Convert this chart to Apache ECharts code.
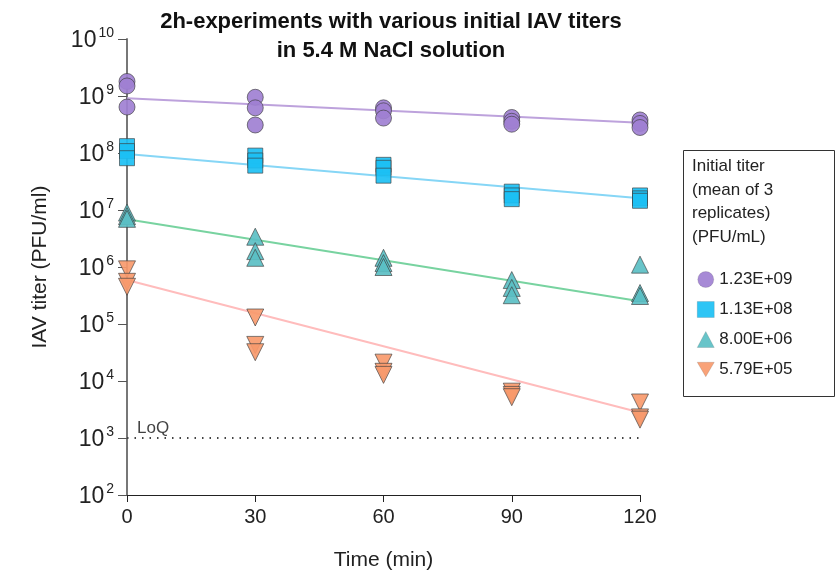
<!DOCTYPE html>
<html>
<head>
<meta charset="utf-8">
<script src="https://cdn.jsdelivr.net/npm/echarts@6/dist/echarts.min.js"></script>
<style>
  html, body { margin: 0; padding: 0; background: #fff; }
  #chart { width: 840px; height: 573px; }
</style>
</head>
<body>
<div id="chart"></div>
<script>
// sampling times (min)
var times = [0, 30, 60, 90, 120]

// 3 replicates per time point, PFU/ml
var purpleVals = [[1.8e9, 1.5e9, 6.4e8], [9.5e8, 6.2e8, 3.1e8], [6.2e8, 5.5e8, 4.1e8], [4.2e8, 3.6e8, 3.2e8], [3.8e8, 3.3e8, 2.8e8]]
var blueVals = [[1.32e8, 1.08e8, 8.1e7], [9.0e7, 7.4e7, 6.0e7], [6.2e7, 5.5e7, 4.0e7], [2.1e7, 1.8e7, 1.55e7], [1.8e7, 1.6e7, 1.45e7]]
var tealVals = [[9.0e6, 7.8e6, 7.0e6], [3.4e6, 1.9e6, 1.45e6], [1.45e6, 1.17e6, 1.0e6], [5.9e5, 4.3e5, 3.2e5], [1.1e6, 3.5e5, 3.1e5]]
var orangeVals = [[9.1e5, 5.5e5, 4.5e5], [1.3e5, 4.3e4, 3.2e4], [2.1e4, 1.45e4, 1.28e4], [6.5e3, 5.7e3, 5.2e3], [4.2e3, 2.3e3, 2.1e3]]

// fitted line values at t=0 and t=120
var fitTimes = [0, 120]
var purpleFit = [9.1e8, 3.4e8]
var blueFit = [9.6e7, 1.6e7]
var tealFit = [6.9e6, 2.5e5]
var orangeFit = [5.9e5, 2.8e3]

var legendNames = ['1.23E+09', '1.13E+08', '8.00E+06', '5.79E+05']
var loq = 1000

function points(vals) {
  var out = []
  for (var i = 0; i < times.length; i++) {
    for (var j = 0; j < vals[i].length; j++) {
      out.push([times[i], vals[i][j]])
    }
  }
  return out
}
function fitLine(vals) {
  return [[fitTimes[0], vals[0]], [fitTimes[1], vals[1]]]
}

var invTri = 'path://M0,0L20,0L10,17Z'

var chart = echarts.init(document.getElementById('chart'))

function scatter(name, vals, symbol, size, color, rotate) {
  return {
    name: name,
    type: 'scatter',
    data: points(vals),
    symbol: symbol,
    symbolSize: size,
    symbolRotate: rotate || 0,
    z: 5,
    itemStyle: {
      color: color,
      opacity: 0.92,
      borderColor: 'rgba(60,60,60,0.7)',
      borderWidth: 1
    }
  }
}
function fit(vals, color) {
  return {
    type: 'line',
    data: fitLine(vals),
    symbol: 'none',
    silent: true,
    z: 3,
    lineStyle: { color: color, width: 2 }
  }
}

var option = {
  animation: false,
  title: {
    text: '2h-experiments with various initial IAV titers\nin 5.4 M NaCl solution',
    left: 386,
    textAlign: 'center',
    top: 2,
    textStyle: {
      fontFamily: 'Liberation Sans',
      fontSize: 22,
      fontWeight: 'bold',
      color: '#111',
      lineHeight: 29
    }
  },
  grid: { left: 127, right: 200, top: 39, bottom: 78, outerBoundsMode: 'none' },
  xAxis: {
    type: 'value',
    min: 0,
    max: 120,
    interval: 30,
    name: 'Time (min)',
    nameLocation: 'middle',
    nameGap: 55,
    nameTextStyle: { fontFamily: 'Liberation Sans', fontSize: 21, color: '#222' },
    axisLine: { lineStyle: { color: '#222', width: 1 } },
    axisTick: { length: 7, lineStyle: { color: '#222' } },
    axisLabel: { fontFamily: 'Liberation Sans', fontSize: 20, color: '#222', margin: 12 },
    splitLine: { show: false }
  },
  yAxis: {
    type: 'log',
    logBase: 10,
    min: 100,
    max: 1e10,
    name: 'IAV titer (PFU/ml)',
    nameLocation: 'middle',
    nameGap: 76,
    nameTextStyle: { fontFamily: 'Liberation Sans', fontSize: 21, color: '#222' },
    axisLine: { show: true, lineStyle: { color: '#777', width: 2 } },
    axisTick: { show: true, length: 9, lineStyle: { color: '#555' } },
    axisLabel: {
      margin: 13,
      formatter: function (v) {
        var e = Math.round(Math.log10(v))
        return '{b|10}{s|' + e + '}'
      },
      rich: {
        b: { fontFamily: 'Liberation Sans', fontSize: 23, color: '#222', verticalAlign: 'bottom' },
        s: { fontFamily: 'Liberation Sans', fontSize: 14, color: '#222', verticalAlign: 'top', padding: [0, 0, 12, 2] }
      }
    },
    splitLine: { show: false },
    minorTick: { show: false }
  },
  legend: {
    orient: 'vertical',
    left: 692,
    top: 266,
    itemWidth: 17,
    itemHeight: 16,
    itemGap: 13,
    itemStyle: { borderColor: 'rgba(60,60,60,0.35)', borderWidth: 0.5 },
    textStyle: { fontFamily: 'Liberation Sans', fontSize: 17, color: '#222' },
    data: [
      { name: legendNames[0], icon: 'circle' },
      { name: legendNames[1], icon: 'rect' },
      { name: legendNames[2], icon: 'triangle' },
      { name: legendNames[3], icon: invTri }
    ]
  },
  graphic: [
    {
      type: 'rect',
      shape: { x: 683.5, y: 150.5, width: 151, height: 246 },
      style: { fill: 'none', stroke: '#333', lineWidth: 1 },
      silent: true
    },
    {
      type: 'text',
      left: 692,
      top: 155,
      style: {
        text: 'Initial titer\n(mean of 3\nreplicates)\n(PFU/mL)',
        fontFamily: 'Liberation Sans',
        fontSize: 17,
        lineHeight: 23.5,
        fill: '#222'
      },
      silent: true
    }
  ],
  series: [
    fit(purpleFit, '#bda2dc'),
    fit(blueFit, '#86d6f6'),
    fit(tealFit, '#78d3a0'),
    fit(orangeFit, '#ffbcbc'),
    {
      type: 'line',
      data: [[fitTimes[0], loq], [fitTimes[1], loq]],
      symbol: 'none',
      silent: true,
      z: 2,
      lineStyle: { color: '#444', width: 2, type: [1.5, 6] }
    },
    {
      type: 'scatter',
      data: [[0, loq]],
      symbolSize: 0,
      silent: true,
      label: {
        show: true,
        formatter: 'LoQ',
        position: 'right',
        offset: [5, -10],
        fontFamily: 'Liberation Sans',
        fontSize: 17,
        color: '#111'
      }
    },
    scatter(legendNames[0], purpleVals, 'circle', 16, '#9f80d2'),
    scatter(legendNames[1], blueVals, 'rect', 15, '#1cc0f4'),
    scatter(legendNames[2], tealVals, 'triangle', 17, '#5bbfc4'),
    scatter(legendNames[3], orangeVals, 'triangle', 17, '#f99a6c', 180)
  ]
}
chart.setOption(option)
</script>
</body>
</html>
